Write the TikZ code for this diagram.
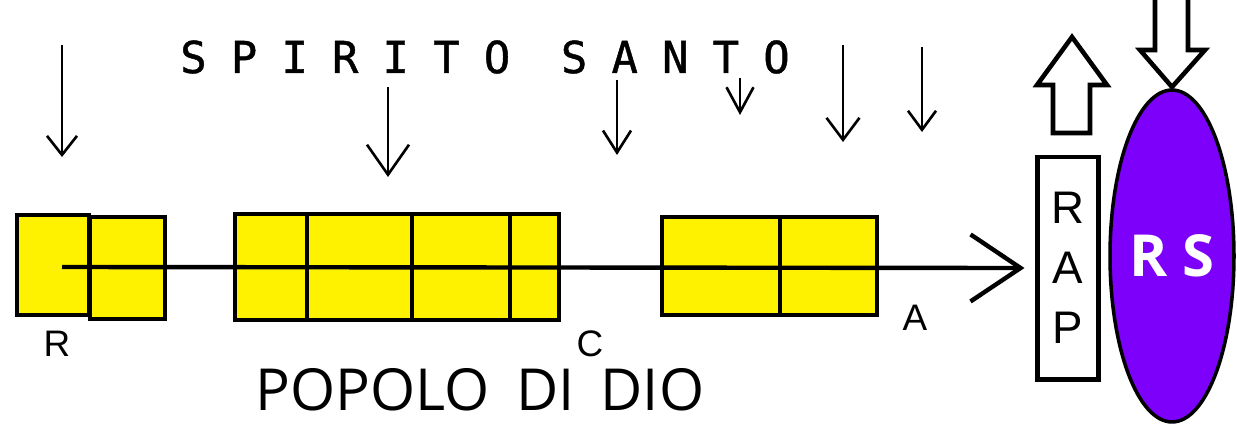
\documentclass[tikz,border=0pt]{standalone}
\usepackage{fontspec}
\setmainfont{Liberation Sans}
\newfontfamily\spiritofont[LetterSpace=55, FakeBold=1]{DejaVu Sans Mono}
\newfontfamily\popolofont{Open Sans}
\newfontfamily\rsfont{Open Sans}
\newcommand\popolostyle{\popolofont\fontsize{33}{38}\selectfont\spaceskip=0.45em\relax}
\usetikzlibrary{arrows.meta}
\usetikzlibrary{shapes.geometric}
\definecolor{rsviolet}{RGB}{125,0,250}
\tikzset{
  cellbox/.style={draw, line width=2.3pt, fill=yellow, inner sep=0pt, anchor=north west},
  dropline/.style={line width=1.5pt},
  hollowarrow/.style={draw, line width=2.6pt, line join=miter, fill=white},
  letter/.style={inner sep=0pt, font=\fontsize{21}{24}\selectfont}
}
\begin{document}
\begin{tikzpicture}[x=0.02cm, y=-0.02cm]
              \useasboundingbox (0,0) rectangle (1237,423);
              \node[cellbox, minimum width=1.44cm, minimum height=2.0cm] (r1) at (15,213) {};
              \node[cellbox, minimum width=1.5cm, minimum height=2.04cm] (r2) at (88,215) {};
              \node[cellbox, minimum width=1.44cm, minimum height=2.12cm] (c1) at (233,212) {};
              \node[cellbox, minimum width=2.1cm, minimum height=2.12cm] (c2) at (305,212) {};
              \node[cellbox, minimum width=1.96cm, minimum height=2.12cm] (c3) at (410,212) {};
              \node[cellbox, minimum width=0.98cm, minimum height=2.12cm] (c4) at (508,212) {};
              \node[cellbox, minimum width=2.36cm, minimum height=1.96cm] (a1) at (660,215) {};
              \node[cellbox, minimum width=1.94cm, minimum height=1.96cm] (a2) at (778,215) {};
              \node[draw, line width=2.3pt, minimum width=1.22cm, minimum height=4.46cm, align=center,
                    font=\fontsize{26}{34}\selectfont] (rap) at (1068,268) {R\\A\\P};
              \node[ellipse, draw, line width=2pt, fill=rsviolet, inner sep=0pt, minimum width=2.48cm,
                    minimum height=6.64cm, text=white, font=\rsfont\bfseries\fontsize{33}{36}\selectfont] (rs) at (1172,256) {R S};
              \coordinate (start) at (62,267);
              \draw[line width=2.5pt, -{Straight Barb[length=1cm, width=1.34cm]}] (start) -- ([xshift=-0.22cm]rap.west);
              \node[letter] (lr) at (57,344) {R};
              \node[letter] (lc) at (590,344) {C};
              \node[letter] (la) at (915,318) {A};
              \node[inner sep=0pt, font=\spiritofont\fontsize{25}{27}\selectfont] (spirito) at (485,57) {SPIRITO  SANTO};
              \node[inner sep=0pt, font=\popolostyle] (popolo) at (480,390) {POPOLO DI DIO};
              \foreach \x/\ya/\yb/\l/\w in {62/45/157/0.38/0.6, 388/87/177/0.6/0.84, 617/80/155/0.44/0.56,
                                           740/78/115/0.5/0.54, 843/45/142/0.44/0.66, 922/47/132/0.38/0.56}
                \draw[dropline, -{Straight Barb[length=\l cm, width=\w cm]}] (\x,\ya) -- (\x,\yb);
              \draw[hollowarrow] (1053,133) -- (1053,85) -- (1037,85) -- (1072,37) -- (1107,85) -- (1090,85) -- (1090,133) -- cycle;
              \draw[hollowarrow] (1155,-10) -- (1155,50) -- (1140,50) -- (1172,87) -- (1205,50) -- (1188,50) -- (1188,-10) -- cycle;
            \end{tikzpicture}
\end{document}
